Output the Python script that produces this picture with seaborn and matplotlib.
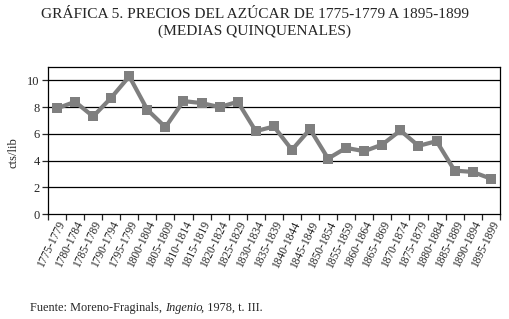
import numpy as np
import pandas as pd
import seaborn as sns
import matplotlib.pyplot as plt

# ---------- data ----------
periods = [f"{y}-{y + 4}" for y in range(1775, 1900, 5)]
prices = [7.9, 8.4, 7.3, 8.7, 10.3, 7.8, 6.5, 8.45, 8.3, 8.0, 8.4, 6.2,
          6.55, 4.8, 6.35, 4.15, 4.95, 4.7, 5.2, 6.25, 5.1, 5.45, 3.25,
          3.15, 2.65]

df = pd.DataFrame({"periodo": periods, "precio": prices})

sns.set_style("white")
plt.rcParams["font.family"] = ["Liberation Serif", "DejaVu Serif"]

fig = plt.figure(figsize=(5.1, 3.19), dpi=100)
ax = fig.add_axes([0.094, 0.329, 0.886, 0.461])

sns.lineplot(data=df, x="periodo", y="precio", ax=ax, color="#7f7f7f",
             linewidth=3, marker="s", markersize=7.5, markeredgewidth=0)

ax.set_xlim(-0.5, len(periods) - 0.5)
ax.set_ylim(0, 11)
ax.set_yticks(range(0, 11, 2))
for v in range(2, 11, 2):
    ax.axhline(v, color="black", linewidth=0.9, zorder=0)

for s in ax.spines.values():
    s.set_visible(True)
    s.set_color("black")
    s.set_linewidth(0.9)

ax.set_xticks(range(len(periods)))
ax.set_xticklabels(periods, rotation=64, ha="right", rotation_mode="anchor",
                   fontsize=8.3)
ax.tick_params(axis="x", which="major", length=0, pad=4)
ax.set_xticks(np.arange(-0.5, len(periods), 1), minor=True)
ax.tick_params(axis="x", which="minor", length=4, width=0.9, direction="out",
               bottom=True)
ax.tick_params(axis="y", length=4, width=0.9, direction="out", left=True,
               labelsize=9, pad=2)

ax.set_xlabel("")
ax.set_ylabel("cts/lib", fontsize=9)
ax.yaxis.set_label_coords(-0.063, 0.42)

fig.text(0.5, 0.955, "GRÁFICA 5. PRECIOS DEL AZÚCAR DE 1775-1779 A 1895-1899",
         ha="center", va="center", fontsize=11.1)
fig.text(0.5, 0.902, "(MEDIAS QUINQUENALES)", ha="center", va="center",
         fontsize=11.1)

t1 = fig.text(0.059, 0.025, "Fuente: Moreno-Fraginals, ", fontsize=8.8,
              va="baseline")
t2 = ax.annotate("Ingenio", xy=(1, 0), xycoords=t1, va="bottom",
                 fontsize=8.8, style="italic", annotation_clip=False)
ax.annotate(", 1978, t. III.", xy=(1, 0), xycoords=t2, xytext=(-1.5, 0),
            textcoords="offset points", va="bottom", fontsize=8.8,
            annotation_clip=False)

fig.savefig("out.png", dpi=100)
